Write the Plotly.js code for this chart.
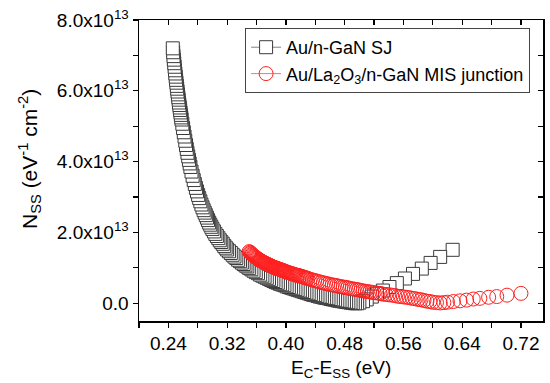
<!DOCTYPE html>
<html>
<head>
<meta charset="utf-8">
<script src="https://cdn.plot.ly/plotly-3.0.1.min.js"></script>
<style>html,body{margin:0;padding:0;background:#fff;}#chart{width:550px;height:383px;}</style>
</head>
<body>
<div id="chart"></div>
<script>
// Au/n-GaN SJ (squares), E_C - E_SS in eV, N_SS in units of 1e13 eV^-1 cm^-2
var sjX = [0.2460,0.2465,0.2470,0.2475,0.2480,0.2485,0.2490,0.2495,0.2500,0.2505,0.2510,0.2515,0.2520,0.2525,0.2530,0.2535,0.2540,0.2545,0.2550,0.2555,0.2560,0.2565,0.2570,0.2575,0.2580,
  0.259,0.260,0.261,0.262,0.263,0.264,0.265,0.266,0.267,0.268,0.269,0.270,
  0.2715,0.273,0.2745,0.276,0.2775,0.279,0.2805,0.282,0.2835,0.285,0.2865,0.288,0.2895,0.291,0.2925,0.294,0.2955,0.297,0.2985,0.300,
  0.302,0.304,0.306,0.308,0.310,0.312,0.314,0.316,0.318,0.320,
  0.3225,0.325,0.3275,0.330,0.3325,0.335,0.3375,0.340,0.3425,0.345,0.3475,0.350,
  0.353,0.356,0.359,0.362,0.365,0.368,0.371,0.374,0.377,0.380,0.383,0.386,0.389,0.392,0.395,0.398,0.401,0.404,0.407,0.410,
  0.413,0.416,0.419,0.422,0.425,0.428,0.431,0.434,0.437,0.440,0.443,0.446,0.449,0.452,0.455,0.458,0.461,0.464,0.467,0.470,
  0.473,0.476,0.479,0.482,0.485,0.488,0.491,0.494,0.497,
  0.500,0.505,0.510,0.517,0.524,0.532,0.541,0.551,0.562,0.573,0.585,0.597,0.610,0.627];
var sjY = [7.20,7.09,6.98,6.88,6.78,6.68,6.58,6.49,6.40,6.31,6.23,6.14,6.06,5.98,5.90,5.82,5.75,5.67,5.60,5.53,5.46,5.39,5.32,5.25,5.19,
  5.07,4.95,4.83,4.71,4.59,4.47,4.36,4.25,4.15,4.05,3.95,3.85,
  3.72,3.60,3.48,3.37,3.26,3.16,3.06,2.97,2.88,2.79,2.71,2.63,2.56,2.49,2.42,2.35,2.28,2.22,2.16,2.10,
  2.03,1.96,1.90,1.84,1.78,1.73,1.68,1.62,1.57,1.52,
  1.47,1.42,1.37,1.32,1.28,1.23,1.19,1.15,1.11,1.07,1.04,1.00,
  0.96,0.92,0.88,0.85,0.81,0.78,0.75,0.72,0.69,0.66,0.63,0.60,0.58,0.55,0.53,0.51,0.48,0.46,0.44,0.42,
  0.40,0.38,0.36,0.34,0.32,0.30,0.28,0.26,0.24,0.23,0.21,0.19,0.18,0.16,0.15,0.14,0.12,0.11,0.10,0.08,
  0.07,0.06,0.05,0.04,0.03,0.02,0.01,0.00,0.00,
  0.02,0.06,0.11,0.19,0.27,0.36,0.46,0.57,0.70,0.83,0.98,1.14,1.31,1.51];

// Au/La2O3/n-GaN MIS junction (circles)
var misX = [0.350,0.351,0.352,0.353,0.354,0.355,0.356,0.357,0.358,0.359,0.360,0.361,0.362,0.363,0.364,0.365,0.366,0.367,0.368,0.369,
  0.370,0.371,0.372,0.373,0.374,0.375,0.376,0.377,0.378,0.379,0.380,0.381,0.382,0.383,0.384,0.385,0.386,0.387,0.388,0.389,
  0.390,0.391,0.392,0.393,0.394,0.395,0.396,0.397,0.398,0.399,0.400,
  0.4015,0.403,0.4045,0.406,0.4075,0.409,0.4105,0.412,0.4135,0.415,0.4165,0.418,0.4195,0.421,0.4225,0.424,0.4255,0.427,0.4285,0.430,
  0.433,0.436,0.439,0.442,0.445,0.448,0.451,0.454,0.457,0.460,
  0.463,0.466,0.469,0.472,0.475,0.478,0.481,0.484,0.487,0.490,0.493,0.496,0.499,0.502,0.505,0.508,0.511,0.514,0.517,0.520,
  0.524,0.528,0.532,0.536,0.540,0.544,0.548,0.552,0.556,0.560,0.564,0.568,0.572,0.576,0.580,0.584,0.588,0.592,0.596,0.600,
  0.605,0.610,0.615,0.620,0.628,0.637,0.646,0.655,0.664,0.676,0.687,0.701,0.720];
var misY = [1.46,1.44,1.42,1.40,1.38,1.36,1.34,1.325,1.31,1.295,1.28,1.265,1.25,1.235,1.22,1.21,1.20,1.185,1.17,1.16,
  1.15,1.14,1.13,1.12,1.11,1.10,1.09,1.08,1.07,1.06,1.05,1.04,1.03,1.02,1.01,1.005,1.00,0.99,0.98,0.975,
  0.97,0.96,0.95,0.945,0.94,0.93,0.92,0.915,0.91,0.90,0.89,
  0.88,0.87,0.86,0.85,0.84,0.83,0.82,0.81,0.80,0.79,0.785,0.78,0.77,0.76,0.75,0.74,0.73,0.72,0.71,0.70,
  0.68,0.66,0.64,0.63,0.61,0.59,0.58,0.56,0.55,0.53,
  0.52,0.51,0.50,0.48,0.47,0.46,0.45,0.44,0.42,0.41,0.40,0.39,0.38,0.36,0.35,0.34,0.33,0.32,0.31,0.30,
  0.29,0.28,0.26,0.25,0.24,0.23,0.22,0.20,0.19,0.18,0.17,0.16,0.14,0.13,0.11,0.10,0.08,0.06,0.05,0.03,
  0.02,0.01,0.02,0.03,0.05,0.07,0.09,0.12,0.14,0.17,0.19,0.23,0.28];

var seriesNames = ['Au/n-GaN SJ', 'Au/La<sub>2</sub>O<sub>3</sub>/n-GaN MIS junction'];
var scale = 1e13;
var yTickVals = [0, 2, 4, 6, 8];
var yTickText = ['0.0', '2.0x10<sup>13</sup>', '4.0x10<sup>13</sup>', '6.0x10<sup>13</sup>', '8.0x10<sup>13</sup>'];
var xTickVals = [0.24, 0.32, 0.40, 0.48, 0.56, 0.64, 0.72];
var xTickText = ['0.24', '0.32', '0.40', '0.48', '0.56', '0.64', '0.72'];

var FONT = 'Arial, "Liberation Sans", Helvetica, sans-serif';
var sjXr = sjX.slice().reverse();
var sjYr = sjY.slice().reverse().map(function(v){return v*scale;});
var misYs = misY.map(function(v){return v*scale;});

var traces = [
  {x: sjXr, y: sjYr, type:'scatter', mode:'markers', showlegend:false,
   marker:{symbol:'square', size:13, color:'#ffffff', line:{color:'#3a3a3a', width:1}}},
  {x: misX, y: misYs, type:'scatter', mode:'markers', showlegend:false,
   marker:{symbol:'circle-open', size:14, color:'#ff2020', line:{color:'#ff2020', width:1}}},
  {x:[null], y:[null], xaxis:'x2', yaxis:'y2', type:'scatter', mode:'lines+markers', name:seriesNames[0],
   line:{color:'#808080', width:1}, marker:{symbol:'square', size:13, color:'#ffffff', line:{color:'#3a3a3a', width:1}}},
  {x:[null], y:[null], xaxis:'x2', yaxis:'y2', type:'scatter', mode:'lines+markers', name:seriesNames[1],
   line:{color:'#ff7070', width:1}, marker:{symbol:'circle-open', size:14, color:'#ff2020', line:{color:'#ff2020', width:1}}}
];

var xr = [0.2, 0.75], yr = [-0.5*scale, 8*scale];
var layout = {
  width:550, height:383,
  margin:{l:139, r:7, t:20, b:62, pad:0},
  paper_bgcolor:'#fff', plot_bgcolor:'#fff',
  font:{family:FONT, size:19, color:'#000'},
  showlegend:true,
  xaxis:{range:xr, tickmode:'array', tickvals:xTickVals, ticktext:xTickText,
    ticks:'outside', ticklen:5, tickwidth:1.2, tickcolor:'#000',
    minor:{tickmode:'linear', tick0:0.20, dtick:0.04, ticks:'outside', ticklen:5, tickwidth:1.2, tickcolor:'#000'},
    showline:true, linecolor:'#000', linewidth:1.5, showgrid:false, zeroline:false,
    tickfont:{family:FONT, size:19, color:'#000'}},
  yaxis:{range:yr, tickmode:'array', tickvals:yTickVals.map(function(v){return v*scale;}), ticktext:yTickText,
    ticks:'outside', ticklen:5, tickwidth:1.2, tickcolor:'#000',
    minor:{tickmode:'linear', tick0:0, dtick:scale, ticks:'outside', ticklen:5, tickwidth:1.2, tickcolor:'#000'},
    showline:true, linecolor:'#000', linewidth:1.5, showgrid:false, zeroline:false,
    tickfont:{family:FONT, size:19, color:'#000'}},
  xaxis2:{overlaying:'x', side:'top', range:xr, tickmode:'linear', tick0:0.20, dtick:0.04,
    ticks:'inside', ticklen:5, tickwidth:1.2, tickcolor:'#000', showticklabels:false,
    showline:true, linecolor:'#000', linewidth:1.5, showgrid:false, zeroline:false},
  yaxis2:{overlaying:'y', side:'right', range:yr, tickmode:'linear', tick0:0, dtick:scale,
    ticks:'inside', ticklen:5, tickwidth:1.2, tickcolor:'#000', showticklabels:false,
    showline:true, linecolor:'#000', linewidth:1.5, showgrid:false, zeroline:false},
  legend:{x:0.2626, y:0.9734, xanchor:'left', yanchor:'top', bgcolor:'#fff',
    bordercolor:'#444', borderwidth:1, font:{family:FONT, size:18, color:'#000'},
    tracegroupgap:0, itemwidth:30},
  annotations:[
    {text:'E<sub>C</sub>-E<sub>SS</sub> (eV)', xref:'paper', yref:'paper', x:0.5, y:-0.16,
     xanchor:'center', yanchor:'middle', showarrow:false, font:{family:FONT, size:19, color:'#000'}},
    {text:'N<sub>SS</sub> (eV<sup>-1</sup> cm<sup>-2</sup>)', xref:'paper', yref:'paper', x:-0.2725, y:0.538,
     xanchor:'center', yanchor:'middle', textangle:-90, showarrow:false, font:{family:FONT, size:21, color:'#000'}}
  ]
};

Plotly.newPlot('chart', traces, layout, {displayModeBar:false, staticPlot:true});
</script>
</body>
</html>
